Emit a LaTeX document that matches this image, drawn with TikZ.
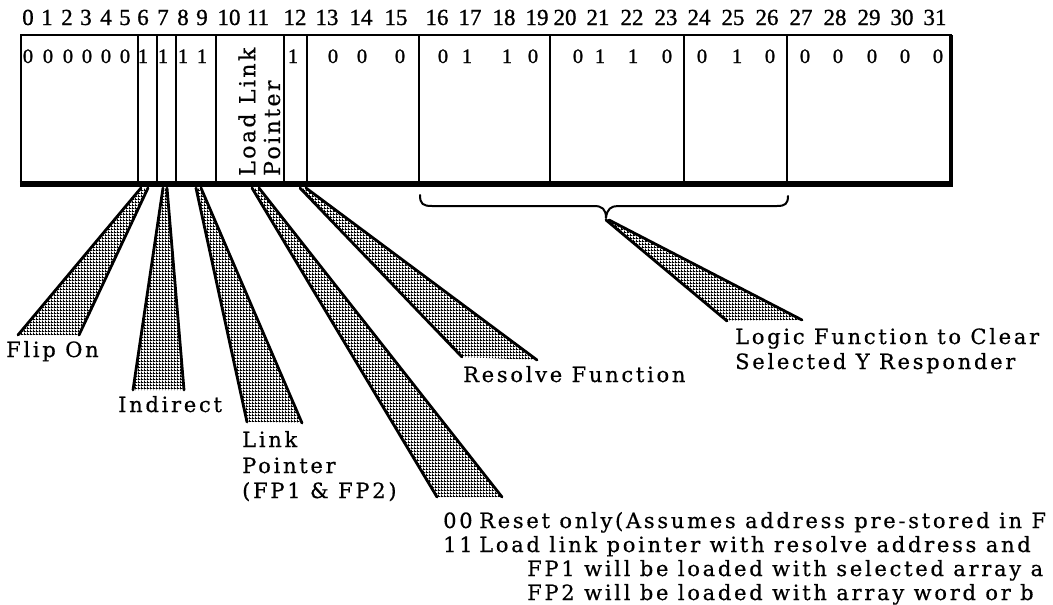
\documentclass[tikz,border=0pt]{standalone}
\usepackage{fontspec}
\newfontfamily\lbl[LetterSpace=13,FakeBold=0.6]{DejaVu Serif}
\newfontfamily\vlbl[LetterSpace=11,FakeBold=0.6]{DejaVu Serif}
\newfontfamily\dig[FakeBold=1]{Liberation Serif}
\usetikzlibrary{patterns}
\pgfdeclarepatternformonly{meshpat}{\pgfpointorigin}{\pgfpoint{3pt}{3pt}}{\pgfpoint{3pt}{3pt}}{%
  \pgfpathrectangle{\pgfpointorigin}{\pgfpoint{3pt}{1.2pt}}%
  \pgfpathrectangle{\pgfpointorigin}{\pgfpoint{1.2pt}{3pt}}%
  \pgfusepath{fill}}
\begin{document}
\begin{tikzpicture}[x=1pt,y=-1pt,
  lab/.style={inner sep=0pt, anchor=base west, font=\lbl\fontsize{21}{24}\selectfont},
  hdr/.style={inner sep=0pt, anchor=base, font=\dig\fontsize{23}{26}\selectfont},
  bit/.style={inner sep=0pt, anchor=base, font=\dig\fontsize{20.5}{24}\selectfont},
  vlab/.style={inner sep=0pt, anchor=west, rotate=90, font=\vlbl\fontsize{22}{26}\selectfont},
  field/.style={draw, line width=2pt, outer sep=0pt, inner sep=0pt, anchor=north west, minimum height=149pt},
  wedgefill/.style={pattern=meshpat, pattern color=black},
  wedgeline/.style={line width=2.8pt, line cap=round},
  bracepath/.style={line width=2pt, line cap=round, line join=round}
]
\useasboundingbox (0,0) rectangle (1053,605);

% ---- bit fields of the word
\foreach \n/\l/\r in {fA/21/138, fB/138/157, fC/157/176, fD/176/216, fE/216/284, fF/284/307, fG/307/419, fH/419/550, fI/550/684, fJ/684/787, fK/787/951}
  \node[field, minimum width=\r-\l] (\n) at (\l,35) {};
\draw[line width=2.5pt] (fA.south west) -- (fA.north west) -- (fK.north east);
\draw[line width=6pt] ([xshift=-1.2pt]fA.south west) -- ([xshift=2pt]fK.south east);
\draw[line width=4pt] (fK.north east) -- ([yshift=-2pt]fK.south east);

% ---- bit numbers
\foreach \n/\x in {0/28,1/47,2/67,3/86,4/106,5/125,6/143,7/163,8/183,9/202,10/229,11/258,12/295,13/327,14/361,15/396,16/437,17/470,18/504,19/537,20/565,21/598,22/632,23/666,24/699,25/733,26/767,27/801,28/835,29/869,30/902,31/935}
  \node[hdr] (h\n) at (\x,25) {\n};

% ---- bit values
\foreach \i/\x/\v in {1/28/0,2/48/0,3/68/0,4/87/0,5/106/0,6/125/0,7/143/1,8/163/1,9/183/1,10/202/1,11/293/1,12/333/0,13/362/0,14/400/0,15/443/0,16/467/1,17/507/1,18/533/0,19/578/0,20/600/1,21/633/1,22/667/0,23/702/0,24/737/1,25/770/0,26/805/0,27/838/0,28/872/0,29/905/0,30/938/0}
  \node[bit] (c\i) at (\x,63) {\v};

\node[vlab] (ll1) at (247,176) {Load Link};
\node[vlab] (ll2) at (272,176) {Pointer};

% ---- brace under bits 16-26
\coordinate (bl) at (420,195);
\coordinate (br) at (788,196);
\coordinate (bt) at (606,218);
\draw[bracepath] (bl) .. controls (420,204) and (423,206) .. (432,206) -- (594,206)
  .. controls (602,206) and (606,209) .. (bt)
  .. controls (607,209) and (611,206) .. (618,206) -- (777,206)
  .. controls (785,206) and (788,204) .. (br);

% ---- wedge end points
\coordinate (a1) at (141,188); \coordinate (b1) at (148,188);
\coordinate (e1) at (18,335);  \coordinate (g1) at (79,335);
\coordinate (a2) at (163,188); \coordinate (b2) at (167,188);
\coordinate (e2) at (133,390); \coordinate (g2) at (184,390);
\coordinate (a3) at (196,188); \coordinate (b3) at (201,188);
\coordinate (e3) at (247,422); \coordinate (g3) at (302,423);
\coordinate (a4) at (252,188); \coordinate (b4) at (259,188);
\coordinate (e4) at (437,497); \coordinate (g4) at (502,497);
\coordinate (a5) at (300,188); \coordinate (b5) at (306,188);
\coordinate (e5) at (462,357); \coordinate (g5) at (537,360);
\coordinate (a6) at (606,220); \coordinate (b6) at (609,220);
\coordinate (e6) at (727,321); \coordinate (g6) at (802,320);

\foreach \k in {1,...,6}{
  \fill[wedgefill] (a\k) -- (e\k) -- (g\k) -- (b\k) -- cycle;
  \draw[wedgeline] (a\k) -- (e\k);
  \draw[wedgeline] (b\k) -- (g\k);
}

% ---- labels
\node[lab] (flip) at (6,357) {Flip On};
\node[lab] (ind) at (118,412) {Indirect};
\node[lab] (lp1) at (242,447) {Link};
\node[lab] (lp2) at (242,473) {Pointer};
\node[lab] (lp3) at (242,498) {(FP1 \& FP2)};
\node[lab] (rf) at (463,382) {Resolve Function};
\node[lab] (lg1) at (735,344) {Logic Function to Clear};
\node[lab] (lg2) at (735,369) {Selected Y Responder};
\node[lab] (n00) at (443,528) {00};
\node[lab] (rs) at (479,528) {Reset only(Assumes address pre-stored in F};
\node[lab] (n11) at (443,552) {11};
\node[lab] (ld) at (479,552) {Load link pointer with resolve address and};
\node[lab] (fp1) at (527,576) {FP1 will be loaded with selected array a};
\node[lab] (fp2) at (527,600) {FP2 will be loaded with array word or b};
\end{tikzpicture}
\end{document}
